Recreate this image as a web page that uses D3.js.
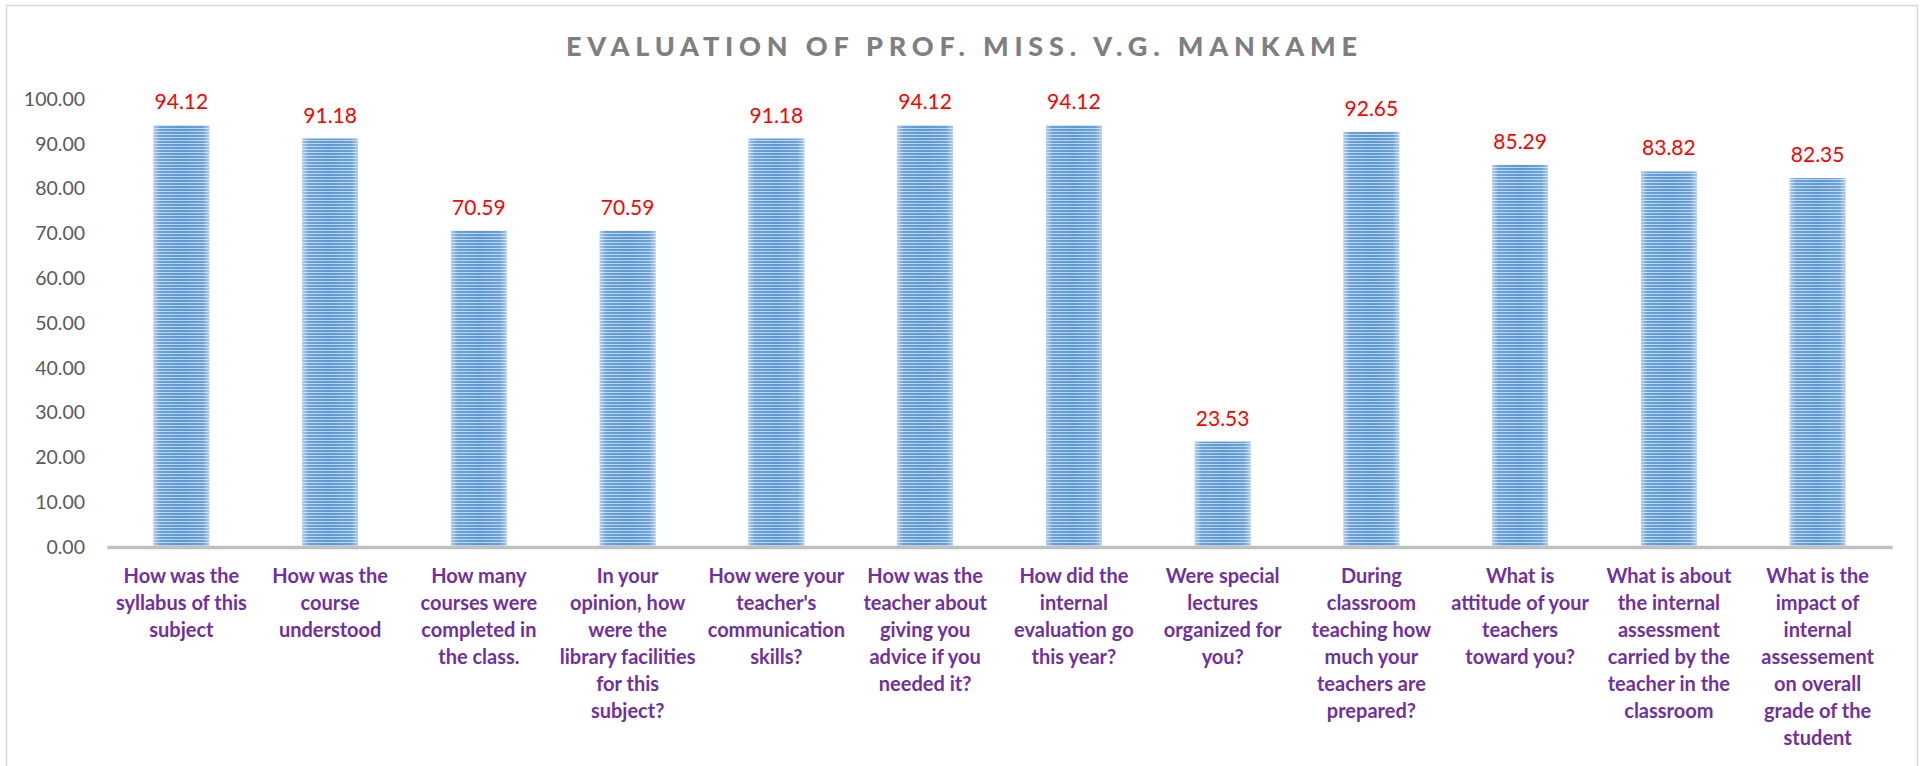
<!DOCTYPE html>
<html><head><meta charset="utf-8">
<script src="https://cdn.jsdelivr.net/npm/d3@7"></script>
<style>html,body{margin:0;padding:0;background:#fff;overflow:hidden}</style>
</head><body>
<svg id="chart" width="1921" height="766"></svg>
<script>
const title = "EVALUATION OF PROF. MISS. V.G. MANKAME";
const categories = [
  ["How was the","syllabus of this","subject"],
  ["How was the","course","understood"],
  ["How many","courses were","completed in","the class."],
  ["In your","opinion, how","were the","library facilities","for this","subject?"],
  ["How were your","teacher's","communication","skills?"],
  ["How was the","teacher about","giving you","advice if you","needed it?"],
  ["How did the","internal","evaluation go","this year?"],
  ["Were special","lectures","organized for","you?"],
  ["During","classroom","teaching how","much your","teachers are","prepared?"],
  ["What is","attitude of your","teachers","toward you?"],
  ["What is about","the internal","assessment","carried by the","teacher in the","classroom"],
  ["What is the","impact of","internal","assessement","on overall","grade of the","student"]
];
const values = [94.12, 91.18, 70.59, 70.59, 91.18, 94.12, 94.12, 23.53, 92.65, 85.29, 83.82, 82.35];
const yTicks = [0,10,20,30,40,50,60,70,80,90,100];

const svg = d3.select("#chart");
const plot = {left:107, right:1892, top:99, bottom:547};

// border
svg.append("rect").attr("x",6.5).attr("y",5.5).attr("width",1911).attr("height",800)
  .attr("fill","#fff").attr("stroke","#d9d9d9").attr("stroke-width",1.5);

const defs = svg.append("defs");
const pat = defs.append("pattern").attr("id","stripes").attr("patternUnits","userSpaceOnUse")
  .attr("width",10).attr("height",3);
pat.append("rect").attr("width",10).attr("height",3).attr("fill","#b9d3ef");
pat.append("rect").attr("width",10).attr("height",2).attr("fill","#5b97d6");
const grad = defs.append("linearGradient").attr("id","edge").attr("x1","0").attr("x2","1").attr("y1","0").attr("y2","0");
grad.append("stop").attr("offset","0").attr("stop-color","#fff").attr("stop-opacity",0.5);
grad.append("stop").attr("offset","0.12").attr("stop-color","#fff").attr("stop-opacity",0.1);
grad.append("stop").attr("offset","0.5").attr("stop-color","#fff").attr("stop-opacity",0);
grad.append("stop").attr("offset","0.88").attr("stop-color","#fff").attr("stop-opacity",0.1);
grad.append("stop").attr("offset","1").attr("stop-color","#fff").attr("stop-opacity",0.5);

const x = d3.scaleBand().domain(d3.range(categories.length)).range([plot.left, plot.right])
  .paddingInner(0.625).paddingOuter(0.3125);
const y = d3.scaleLinear().domain([0,100]).range([plot.bottom, plot.top]);

// title
svg.append("text").attr("x",566).attr("y",56).attr("textLength",791).attr("lengthAdjust","spacing")
  .attr("font-family","Lato, 'Open Sans', sans-serif").attr("font-weight","900")
  .attr("font-size",27).attr("fill","#7f7f7f").text(title);

// y axis
const yAxis = d3.axisLeft(y).tickValues(yTicks).tickFormat(d3.format(".2f")).tickSize(0).tickPadding(0);
const yg = svg.append("g").attr("transform","translate(85,0)").call(yAxis);
yg.select(".domain").remove();
yg.selectAll("text").attr("font-family","Lato, sans-serif").attr("font-size",19.5).attr("fill","#595959");

// bars
const bars = svg.append("g");
bars.selectAll("rect.bar").data(values).join("rect").attr("class","bar")
  .attr("x",(d,i)=>x(i)).attr("width",x.bandwidth())
  .attr("y",d=>y(d)).attr("height",d=>y(0)-y(d)).attr("fill","url(#stripes)");
bars.selectAll("rect.edge").data(values).join("rect").attr("class","edge")
  .attr("x",(d,i)=>x(i)).attr("width",x.bandwidth())
  .attr("y",d=>y(d)).attr("height",d=>y(0)-y(d)).attr("fill","url(#edge)");

// value labels
svg.append("g").selectAll("text").data(values).join("text")
  .attr("x",(d,i)=>x(i)+x.bandwidth()/2).attr("y",d=>y(d)-16)
  .attr("text-anchor","middle").attr("font-family","Lato, sans-serif").attr("font-size",21)
  .attr("fill","#ff0000").text(d=>d3.format(".2f")(d));

// x axis
const xAxis = d3.axisBottom(x).tickSize(0).tickFormat("");
const xg = svg.append("g").attr("transform",`translate(0,${plot.bottom})`).call(xAxis);
xg.select(".domain").attr("stroke","#bfbfbf").attr("stroke-width",3.5);

const lab = svg.append("g");
categories.forEach((lines,i)=>{
  const t = lab.append("text").attr("text-anchor","middle")
    .attr("font-family","Lato, sans-serif").attr("font-weight","bold").attr("font-size",20)
    .attr("fill","#7030a0");
  lines.forEach((ln,j)=>{
    t.append("tspan").attr("x",x(i)+x.bandwidth()/2).attr("y",583+j*27).text(ln);
  });
});
</script>
</body></html>
